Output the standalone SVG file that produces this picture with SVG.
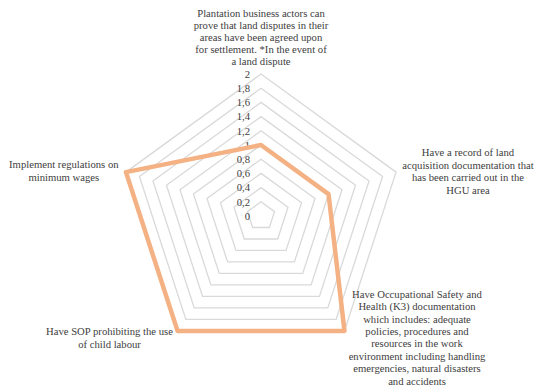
<svg xmlns="http://www.w3.org/2000/svg" width="534" height="387" viewBox="0 0 534 387">
<style>
.grid{fill:none;stroke:#d9d9d9;stroke-width:1.3}
.series{fill:none;stroke:#f4b183;stroke-width:4.5;stroke-linejoin:round}
.t{font-family:"Liberation Serif","Tinos","DejaVu Serif",serif;font-size:10.67px;fill:#404040}
.tick{text-anchor:end}
.cat{text-anchor:middle}
</style>
<rect width="534" height="387" fill="#ffffff"/>
<g id="grid">
<polygon class="grid" points="261,201.8 274.51,211.61 269.35,227.49 252.65,227.49 247.49,211.61"/>
<polygon class="grid" points="261,187.6 288.01,207.22 277.69,238.98 244.31,238.98 233.99,207.22"/>
<polygon class="grid" points="261,173.4 301.52,202.84 286.04,250.46 235.96,250.46 220.48,202.84"/>
<polygon class="grid" points="261,159.2 315.02,198.45 294.39,261.95 227.61,261.95 206.98,198.45"/>
<polygon class="grid" points="261,145 328.53,194.06 302.73,273.44 219.27,273.44 193.47,194.06"/>
<polygon class="grid" points="261,130.8 342.03,189.67 311.08,284.93 210.92,284.93 179.97,189.67"/>
<polygon class="grid" points="261,116.6 355.54,185.29 319.43,296.41 202.57,296.41 166.46,185.29"/>
<polygon class="grid" points="261,102.4 369.04,180.9 327.77,307.9 194.23,307.9 152.96,180.9"/>
<polygon class="grid" points="261,88.2 382.55,176.51 336.12,319.39 185.88,319.39 139.45,176.51"/>
<polygon class="grid" points="261,74 396.05,172.12 344.47,330.88 177.53,330.88 125.95,172.12"/>
</g>
<g id="axis-labels" class="t">
<text class="tick" x="250" y="219.7">0</text>
<text class="tick" x="250" y="205.5">0,2</text>
<text class="tick" x="250" y="191.3">0,4</text>
<text class="tick" x="250" y="177.1">0,6</text>
<text class="tick" x="250" y="162.9">0,8</text>
<text class="tick" x="250" y="148.7">1</text>
<text class="tick" x="250" y="134.5">1,2</text>
<text class="tick" x="250" y="120.3">1,4</text>
<text class="tick" x="250" y="106.1">1,6</text>
<text class="tick" x="250" y="91.9">1,8</text>
<text class="tick" x="250" y="77.7">2</text>
</g>
<g id="connectors">
<polygon class="series" points="261,145 328.53,194.06 344.47,330.88 177.53,330.88 125.95,172.12"/>
</g>
<g id="node-top" class="t">
<text class="cat" x="261" y="17">Plantation business actors can</text>
<text class="cat" x="261" y="29">prove that land disputes in their</text>
<text class="cat" x="261" y="41">areas have been agreed upon</text>
<text class="cat" x="261" y="53">for settlement. *In the event of</text>
<text class="cat" x="261" y="65">a land dispute</text>
</g>
<g id="node-right" class="t">
<text class="cat" x="468" y="156.4">Have a record of land</text>
<text class="cat" x="468" y="168.8">acquisition documentation that</text>
<text class="cat" x="468" y="181.2">has been carried out in the</text>
<text class="cat" x="468" y="193.6">HGU area</text>
</g>
<g id="node-bottom-right" class="t">
<text class="cat" x="417" y="297.7">Have Occupational Safety and</text>
<text class="cat" x="417" y="310.1">Health (K3) documentation</text>
<text class="cat" x="417" y="322.5">which includes: adequate</text>
<text class="cat" x="417" y="334.9">policies, procedures and</text>
<text class="cat" x="417" y="347.3">resources in the work</text>
<text class="cat" x="417" y="359.7">environment including handling</text>
<text class="cat" x="417" y="372.1">emergencies, natural disasters</text>
<text class="cat" x="417" y="384.5">and accidents</text>
</g>
<g id="node-bottom-left" class="t">
<text class="cat" x="109.5" y="335.4">Have SOP prohibiting the use</text>
<text class="cat" x="109.5" y="347.8">of child labour</text>
</g>
<g id="node-left" class="t">
<text class="cat" x="63.8" y="168">Implement regulations on</text>
<text class="cat" x="63.8" y="180.8">minimum wages</text>
</g>
</svg>
